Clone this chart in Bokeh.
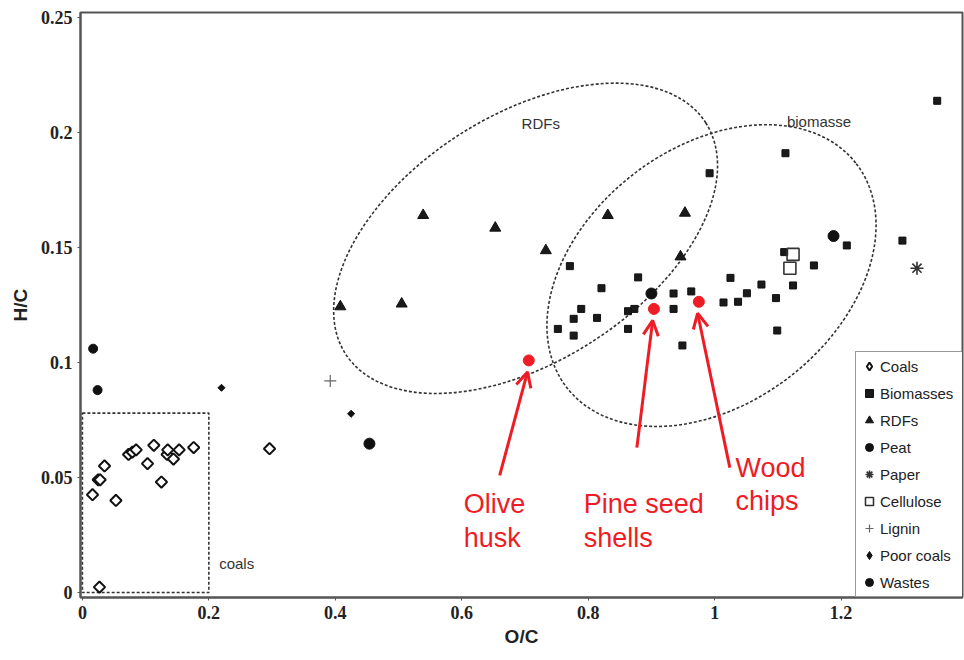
from bokeh.plotting import figure
from bokeh.models import (Range1d, FixedTicker, NumeralTickFormatter, Legend, LegendItem,
                          Arrow, OpenHead, ColumnDataSource)
from bokeh.core.properties import value
from bokeh.embed import file_html
from bokeh.resources import INLINE

# ---- data: O/C and H/C mass ratios per fuel class ----
coals_oc = [0.016, 0.025, 0.028, 0.035, 0.053, 0.073, 0.079, 0.085, 0.103, 0.113,
            0.125, 0.134, 0.135, 0.144, 0.153, 0.176, 0.296, 0.027]
coals_hc = [0.0425, 0.049, 0.049, 0.055, 0.040, 0.060, 0.061, 0.062, 0.056, 0.064,
            0.048, 0.060, 0.062, 0.058, 0.062, 0.063, 0.0625, 0.0023]

biomass_oc = [0.992, 1.112, 0.771, 0.879, 0.821, 0.752, 0.777, 0.789, 0.777, 0.814,
              0.863, 0.873, 0.863, 0.935, 0.963, 0.935, 0.949, 1.025, 1.014, 1.037,
              1.051, 1.074, 1.097, 1.124, 1.099, 1.157, 1.209, 1.297, 1.110, 1.352]
biomass_hc = [0.1823, 0.191, 0.1419, 0.137, 0.1323, 0.1146, 0.119, 0.1233, 0.1117, 0.1194,
              0.1223, 0.1233, 0.1146, 0.130, 0.1309, 0.1233, 0.1074, 0.1368, 0.1261, 0.1264,
              0.1301, 0.1339, 0.128, 0.1335, 0.1139, 0.1422, 0.1509, 0.153, 0.148, 0.2138]

rdf_oc = [0.408, 0.505, 0.539, 0.653, 0.733, 0.831, 0.953, 0.946]
rdf_hc = [0.1243, 0.1255, 0.164, 0.1585, 0.1487, 0.164, 0.165, 0.146]

peat_oc = [0.454, 0.900, 1.188]
peat_hc = [0.0647, 0.130, 0.155]

paper_oc = [1.320]
paper_hc = [0.141]

cellulose_oc = [1.124, 1.119]
cellulose_hc = [0.147, 0.141]

lignin_oc = [0.392]
lignin_hc = [0.092]

poor_coals_oc = [0.220, 0.425]
poor_coals_hc = [0.089, 0.0777]

wastes_oc = [0.017, 0.024]
wastes_hc = [0.106, 0.088]

# highlighted samples
sample_names = ["Olive husk", "Pine seed shells", "Wood chips"]
sample_oc = [0.706, 0.904, 0.975]
sample_hc = [0.1009, 0.1233, 0.1264]

x_ticks = [0, 0.2, 0.4, 0.6, 0.8, 1.0, 1.2]
y_ticks = [0, 0.05, 0.1, 0.15, 0.2, 0.25]

# ---- figure ----
p = figure(width=964, height=660, output_backend="svg", toolbar_location=None,
           x_range=Range1d(-0.003, 1.392), y_range=Range1d(-0.0022, 0.2522),
           min_border_left=80, min_border_right=2, min_border_top=12, min_border_bottom=63,
           background_fill_color="white", border_fill_color="white")
p.grid.visible = False
p.outline_line_color = "#555555"
p.outline_line_width = 2

p.xaxis.ticker = FixedTicker(ticks=x_ticks)
p.yaxis.ticker = FixedTicker(ticks=y_ticks)
p.xaxis.formatter = NumeralTickFormatter(format="0.[00]")
p.yaxis.formatter = NumeralTickFormatter(format="0.[00]")
for ax in (p.xaxis, p.yaxis):
    ax.axis_line_color = "#555555"
    ax.axis_line_width = 2
    ax.major_tick_in = 0
    ax.major_tick_out = 3
    ax.major_tick_line_color = "#555555"
    ax.minor_tick_line_color = None
    ax.major_label_text_font = "Liberation Serif"
    ax.major_label_text_font_style = "bold"
    ax.major_label_text_font_size = "18px"
    ax.major_label_text_color = "#222222"
    ax.axis_label_text_font = "Liberation Sans"
    ax.axis_label_text_font_style = "bold"
    ax.axis_label_text_font_size = "19px"
    ax.axis_label_text_color = "#222222"
    ax.axis_label_standoff = 4
p.xaxis.axis_label = "O/C"
p.yaxis.axis_label = "H/C"
p.yaxis.axis_label_standoff = 7

# ---- dashed region outlines ----
dash_col = "#333333"
region_x = [0.701, 0.995]
region_y = [0.154, 0.1378]
region_w = [428, 366]
region_h = [246, 256]
region_angle = [32.7, 37.7]
p.ellipse(x=region_x, y=region_y, width=region_w, height=region_h, angle=region_angle,
          width_units="screen", height_units="screen", angle_units="deg",
          fill_color=None, line_color=dash_col, line_width=1.6, line_dash="3 2")
p.quad(left=[0], right=[0.2], bottom=[0], top=[0.078], fill_color=None,
       line_color=dash_col, line_width=1.6, line_dash="3 2")

p.text(x=[0.725, 1.165, 0.244], y=[0.204, 0.205, 0.0126], text=["RDFs", "biomasse", "coals"],
       text_font=value("Liberation Sans"), text_font_size="15px", text_color="#333333",
       text_align="center", text_baseline="middle")

# ---- fuel classes ----
ink = "#111111"
coal_style = dict(fill_color="white", line_color=ink, line_width=2)
poor_style = dict(fill_color=ink, line_color=ink)

# narrow diamonds underneath give the legend its diamond keys;
# the visible diamonds are squares turned by 45 degrees drawn on top
key_coal = p.scatter(coals_oc, coals_hc, marker="diamond", size=9, **coal_style)
key_poor = p.scatter(poor_coals_oc, poor_coals_hc, marker="diamond", size=5, **poor_style)

r_coal = p.scatter(coals_oc, coals_hc, marker="square", angle=0.785398, size=8, **coal_style)
r_bio = p.scatter(biomass_oc, biomass_hc, marker="square", size=7,
                  fill_color="#1a1a1a", line_color=ink, line_width=1)
r_rdf = p.scatter(rdf_oc, rdf_hc, marker="triangle", size=11,
                  fill_color="#1a1a1a", line_color=ink, line_width=1)
r_peat = p.scatter(peat_oc, peat_hc, marker="circle", size=11,
                   fill_color=ink, line_color=ink)
r_paper = p.scatter(paper_oc, paper_hc, marker="asterisk", size=13,
                    line_color="#333333", line_width=1.6)
r_cell = p.scatter(cellulose_oc, cellulose_hc, marker="square", size=12,
                   fill_color="white", fill_alpha=0, line_color="#333333", line_width=1.6)
r_lig = p.scatter(lignin_oc, lignin_hc, marker="cross", size=12,
                  line_color="#666666", line_width=1.2)
r_poor = p.scatter(poor_coals_oc, poor_coals_hc, marker="square", angle=0.785398, size=5,
                   **poor_style)
r_waste = p.scatter(wastes_oc, wastes_hc, marker="circle", size=9,
                    fill_color=ink, line_color=ink)

# ---- highlighted samples with arrows and labels ----
red = "#ee1c24"
p.scatter(sample_oc, sample_hc, marker="circle", size=11, fill_color=red, line_color=red)

arrow_src = ColumnDataSource(dict(
    x0=[0.660, 0.877, 1.024], y0=[0.0509, 0.0630, 0.0543],
    x1=[o - 0.002 for o in sample_oc], y1=[h - 0.005 for h in sample_hc]))
p.add_layout(Arrow(end=OpenHead(size=15, line_color=red, line_width=3),
                   x_start="x0", y_start="y0", x_end="x1", y_end="y1", source=arrow_src,
                   line_color=red, line_width=3))

label_lines = ["Olive", "husk", "Pine seed", "shells", "Wood", "chips"]
label_x = [0.603, 0.603, 0.793, 0.793, 1.033, 1.033]
label_y = [0.0383, 0.0235, 0.0383, 0.0235, 0.0539, 0.0396]
p.text(x=label_x, y=label_y, text=label_lines, text_font=value("Liberation Sans"),
       text_font_size="27px", text_color=red, text_align="left", text_baseline="alphabetic")

# ---- legend ----
legend = Legend(items=[
    LegendItem(label="Coals", renderers=[key_coal]),
    LegendItem(label="Biomasses", renderers=[r_bio]),
    LegendItem(label="RDFs", renderers=[r_rdf]),
    LegendItem(label="Peat", renderers=[r_peat]),
    LegendItem(label="Paper", renderers=[r_paper]),
    LegendItem(label="Cellulose", renderers=[r_cell]),
    LegendItem(label="Lignin", renderers=[r_lig]),
    LegendItem(label="Poor coals", renderers=[key_poor]),
    LegendItem(label="Wastes", renderers=[r_waste]),
], location=(775, 0))
legend.glyph_width = 20
legend.glyph_height = 22
legend.label_height = 22
legend.spacing = 5
legend.padding = 3
legend.margin = 0
legend.label_standoff = 1
legend.label_width = 100
legend.label_text_font = "Liberation Sans"
legend.label_text_font_size = "15px"
legend.label_text_color = "#222222"
legend.border_line_color = "#333333"
legend.border_line_width = 1.5
legend.background_fill_color = "white"
legend.background_fill_alpha = 1
p.add_layout(legend)

open("out.html", "w").write(file_html(p, INLINE))
